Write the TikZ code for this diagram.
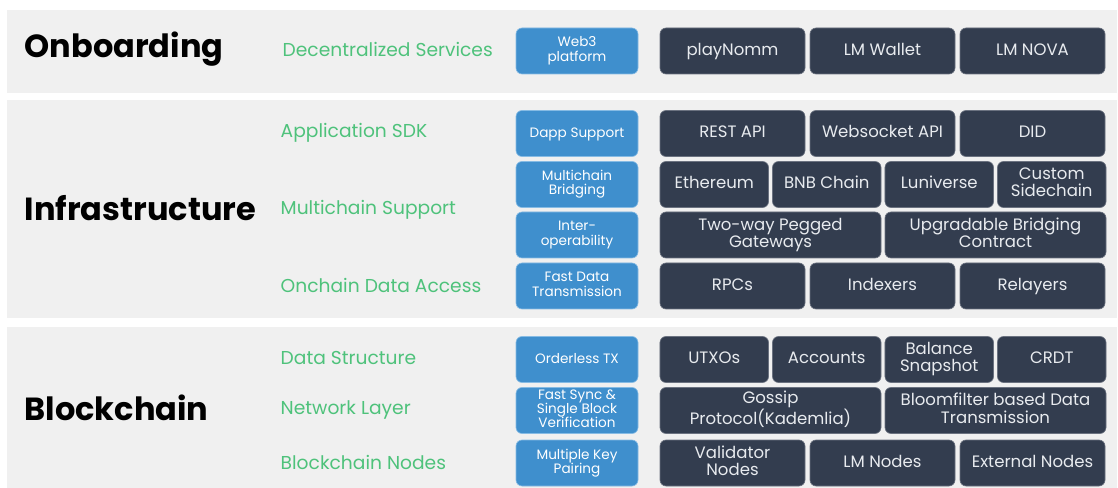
\documentclass[tikz,border=0pt]{standalone}
\usepackage{fontspec}
\setmainfont{Poppins}
\definecolor{panelgray}{HTML}{F0F0F0}
\definecolor{topicgreen}{HTML}{4EC27B}
\definecolor{featblue}{HTML}{3F8FCD}
\definecolor{featedge}{HTML}{86BBE4}
\definecolor{itemdark}{HTML}{333D4F}
\definecolor{itemedge}{HTML}{6B7280}
\definecolor{itemtext}{HTML}{E8EBEF}
\begin{document}
\begin{tikzpicture}[x=0.75pt,y=-0.75pt,
    layer/.style={anchor=west,text=black,font=\bfseries\fontsize{24}{28}\selectfont},
    topic/.style={anchor=west,text=topicgreen,font=\fontsize{14}{17}\selectfont},
    feature/.style={rounded corners=4.5pt,fill=featblue,draw=featedge,line width=0.5pt,
        text=white,align=center,inner sep=0pt,minimum width=91.5pt,minimum height=34.5pt,
        font=\fontsize{10.2}{10.8}\selectfont,
        execute at begin node={\rule{0pt}{8.4pt}},
        execute at end node={\rule[-2.9pt]{0pt}{2.9pt}}},
    item/.style={rounded corners=4.5pt,fill=itemdark,draw=itemedge,line width=0.5pt,
        text=itemtext,align=center,inner sep=0pt,minimum height=34.5pt,
        font=\fontsize{12.4}{12.8}\selectfont,
        execute at begin node={\rule{0pt}{10pt}},
        execute at end node={\rule[-3.5pt]{0pt}{3.5pt}}},
    pairbox/.style={item,minimum width=165.75pt},
    tribox/.style={item,minimum width=108.75pt},
    quadbox/.style={item,minimum width=81.4pt}]
    \useasboundingbox (0,0) rectangle (1118,488);

    % Panels
    \fill[panelgray] (7,10) rectangle (1117,93);
    \fill[panelgray] (7,100) rectangle (1117,318);
    \fill[panelgray] (7,327) rectangle (1117,488);

    % Onboarding
    \node[layer] (onb) at (20,49) {Onboarding};
    \node[topic] (decsvc) at (278,49) {Decentralized Services};
    \node[feature] (web3) at (577,51) {Web3\\platform};
    \node[tribox] (playnomm) at (732.5,51) {playNomm};
    \node[tribox] (wallet) at (882.5,51) {LM Wallet};
    \node[tribox] (nova) at (1032.5,51) {LM NOVA};

    % Infrastructure
    \node[layer] (infra) at (20,208) {Infrastructure};
    \node[topic] (appsdk) at (276,133) {Application SDK};
    \node[topic] (multisup) at (276,210) {Multichain Support};
    \node[topic] (onchain) at (276,285) {Onchain Data Access};

    \node[feature] (dapp) at (577,133.5) {Dapp Support};
    \node[feature] (bridging) at (577,184.5) {Multichain\\Bridging};
    \node[feature] (interop) at (577,235) {Inter-\\operability};
    \node[feature] (fastdata) at (577,286) {Fast Data\\Transmission};

    \node[tribox] (rest) at (732.5,133.5) {REST API};
    \node[tribox] (wsock) at (882.5,133.5) {Websocket API};
    \node[tribox] (did) at (1032.5,133.5) {DID};

    \node[quadbox] (eth) at (714.25,184.5) {Ethereum};
    \node[quadbox] (bnb) at (826.75,184.5) {BNB Chain};
    \node[quadbox] (luni) at (939.25,184.5) {Luniverse};
    \node[quadbox] (sidechain) at (1051.75,184.5) {Custom\\Sidechain};

    \node[pairbox] (gateways) at (770.5,235) {Two-way Pegged\\Gateways};
    \node[pairbox] (upgrade) at (995.5,235) {Upgradable Bridging\\Contract};

    \node[tribox] (rpcs) at (732.5,286) {RPCs};
    \node[tribox] (indexers) at (882.5,286) {Indexers};
    \node[tribox] (relayers) at (1032.5,286) {Relayers};

    % Blockchain
    \node[layer] (chain) at (20,408) {Blockchain};
    \node[topic] (datastruct) at (276,358) {Data Structure};
    \node[topic] (netlayer) at (276,410) {Network Layer};
    \node[topic] (chainnodes) at (276,462) {Blockchain Nodes};

    \node[feature] (orderless) at (577,359.5) {Orderless TX};
    \node[feature] (fastsync) at (577,410.5) {Fast Sync \&\\Single Block\\Verification};
    \node[feature] (keypair) at (577,463) {Multiple Key\\Pairing};

    \node[quadbox] (utxo) at (714.25,359.5) {UTXOs};
    \node[quadbox] (accounts) at (826.75,359.5) {Accounts};
    \node[quadbox] (snapshot) at (939.25,359.5) {Balance\\Snapshot};
    \node[quadbox] (crdt) at (1051.75,359.5) {CRDT};

    \node[pairbox] (gossip) at (770.5,410.5) {Gossip\\Protocol(Kademlia)};
    \node[pairbox] (bloom) at (995.5,410.5) {Bloomfilter based Data\\Transmission};

    \node[tribox] (validator) at (732.5,463) {Validator\\Nodes};
    \node[tribox] (lmnodes) at (882.5,463) {LM Nodes};
    \node[tribox] (extnodes) at (1032.5,463) {External Nodes};
\end{tikzpicture}
\end{document}
